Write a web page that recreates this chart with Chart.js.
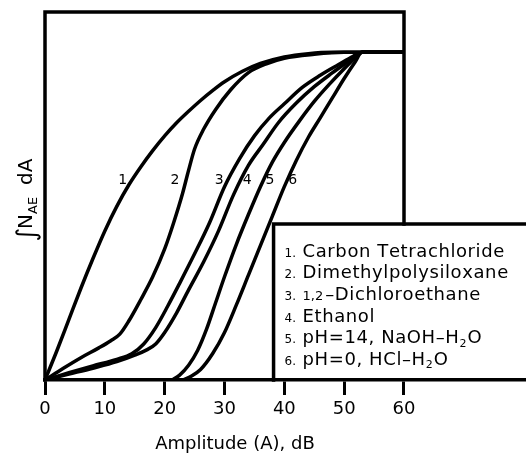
<!DOCTYPE html>
<html><head><meta charset="utf-8">
<script src="https://cdn.jsdelivr.net/npm/chart.js@4"></script>
<style>html,body{margin:0;padding:0;background:#fff}#wrap{width:526px;height:456px}</style>
</head><body><div id="wrap"><canvas id="c" width="526" height="456"></canvas></div>
<script>
// ---- data ----
const xTicks = [0, 10, 20, 30, 40, 50, 60];
const xTitle = 'Amplitude (A), dB';

const c1x = [0, 2, 4, 6, 8, 10, 12, 14, 16, 18, 20, 22, 24, 26, 28, 30, 33, 36, 40, 44, 48, 60];
const c1y = [0, 9, 18.5, 28, 37, 45.5, 53, 59.5, 65, 70, 74.5, 78.5, 82, 85.3, 88.3, 91, 94.2, 96.6, 98.6, 99.6, 100, 100];

const c2x = [0, 3, 6, 9, 11, 12.5, 14, 16, 18, 20, 21.5, 23, 24, 25, 26.5, 28.5, 31, 34, 37, 40, 45, 50, 60];
const c2y = [0, 3.5, 6.8, 9.8, 12, 14, 18, 24.5, 31.5, 40, 48, 57, 64, 70.5, 76.5, 82.5, 88.5, 93.8, 96.5, 98.2, 99.4, 100, 100];

const c3x = [0, 4, 8, 12, 14.5, 16.5, 18.5, 20.5, 22.5, 25, 27.5, 30, 32.5, 35, 37.5, 40, 43, 46, 49, 51.5, 53, 60];
const c3y = [0, 2.2, 4.3, 6.3, 8, 11, 16, 22.5, 29.5, 38.5, 48, 59, 67.5, 74.5, 80, 84.3, 89.3, 93, 96.2, 98.8, 100, 100];

const c4x = [0, 4, 8, 12, 15, 17, 18.5, 20, 22, 24, 26.5, 29, 31.5, 34, 36.5, 39, 42, 45, 48, 50.5, 52.2, 53, 60];
const c4y = [0, 1.8, 3.6, 5.6, 7.6, 9.2, 11, 14.5, 20.5, 27.5, 36, 45.5, 56.5, 65.5, 72, 78.5, 84.5, 89.5, 93.7, 97, 99.2, 100, 100];

const c5x = [21.2, 22.5, 24, 25.5, 27, 28.5, 30, 32, 34, 36, 38, 40, 42.5, 45, 47.5, 50, 51.8, 53, 60];
const c5y = [0, 1.5, 4.5, 9, 15.5, 23.5, 31.5, 41.5, 50.5, 59, 66.5, 72.5, 79, 85, 90.2, 95, 98.2, 100, 100];

const c6x = [23, 24.5, 26, 28, 30, 32, 34, 36, 38, 40, 42, 44, 46, 48, 50, 51.8, 53, 60];
const c6y = [0, 1.2, 3.2, 8, 14.5, 23, 32, 41, 50, 59, 67, 74, 80, 86, 92, 97, 100, 100];

const curveNumbers = ['1', '2', '3', '4', '5', '6'];
const curveLabelX = [13.0, 21.7, 29.1, 33.8, 37.6, 41.4];
const curveLabelY = [61, 61, 61, 61, 61, 61];

const legendNums = ['1.', '2.', '3.', '4.', '5.', '6.'];
const legendSmall = ['', '', '1,2', '', '', ''];
const legendMain = ['Carbon Tetrachloride', 'Dimethylpolysiloxane', '\u2013Dichloroethane', 'Ethanol', 'pH=14, NaOH\u2013H\u2082O', 'pH=0, HCl\u2013H\u2082O'];

// ---- layout constants (styling) ----
const yMax = 112.3;
const xMax = 80.39;
const frameRight = 60;
const legendLeft = 38.2;
const legendTop = 47.6;
const FONT = '"DejaVu Sans", sans-serif';

const curves = [[c1x, c1y], [c2x, c2y], [c3x, c3y], [c4x, c4y], [c5x, c5y], [c6x, c6y]];
const datasets = curves.map(([xs, ys], i) => ({
  label: curveNumbers[i],
  data: xs.map((v, j) => ({ x: v, y: ys[j] })),
  borderColor: '#000',
  borderWidth: 3.5,
  pointRadius: 0,
  fill: false,
  cubicInterpolationMode: 'monotone'
}));

function drawRich(ctx, text, x, baseline, size) {
  let cx = x;
  for (const ch of text) {
    if (ch === '\u2082') {
      ctx.font = Math.round(size * 0.62) + 'px ' + FONT;
      ctx.fillText('2', cx, baseline + size * 0.18);
      cx += ctx.measureText('2').width + 1;
    } else {
      ctx.font = size + 'px ' + FONT;
      ctx.fillText(ch, cx, baseline);
      cx += ctx.measureText(ch).width + 0.6;
    }
  }
  return cx;
}

const framePlugin = {
  id: 'frame',
  afterDatasetsDraw(chart) {
    const { ctx, scales: { x, y } } = chart;
    const L = x.getPixelForValue(0), R = x.getPixelForValue(frameRight);
    const T = y.getPixelForValue(yMax), B = y.getPixelForValue(0);
    const bx = x.getPixelForValue(legendLeft), by = y.getPixelForValue(legendTop);
    ctx.save();
    ctx.strokeStyle = '#000';
    ctx.fillStyle = '#000';
    ctx.lineWidth = 3.5;
    ctx.lineCap = 'square';
    ctx.beginPath();
    ctx.moveTo(L, B); ctx.lineTo(L, T); ctx.lineTo(R, T); ctx.lineTo(R, by);
    ctx.stroke();
    ctx.beginPath();
    ctx.moveTo(bx, B); ctx.lineTo(bx, by); ctx.lineTo(chart.width + 5, by);
    ctx.stroke();
    // legend text
    ctx.textBaseline = 'alphabetic';
    ctx.textAlign = 'left';
    for (let i = 0; i < legendMain.length; i++) {
      const base = by + 32.5 + i * 21.7;
      ctx.font = '12px ' + FONT;
      ctx.fillText(legendNums[i], bx + 11, base);
      let cx = bx + 29;
      if (legendSmall[i]) {
        ctx.font = '13px ' + FONT;
        ctx.fillText(legendSmall[i], cx, base);
        cx += ctx.measureText(legendSmall[i]).width + 2;
      }
      drawRich(ctx, legendMain[i], cx, base, 18);
    }
    // curve numbers
    ctx.font = '14px ' + FONT;
    ctx.textAlign = 'center';
    ctx.textBaseline = 'middle';
    for (let i = 0; i < curveNumbers.length; i++) {
      ctx.fillText(curveNumbers[i], x.getPixelForValue(curveLabelX[i]), y.getPixelForValue(curveLabelY[i]));
    }
    // x title
    ctx.font = '18px ' + FONT;
    ctx.textBaseline = 'alphabetic';
    ctx.fillText(xTitle, x.getPixelForValue(31.75), 449);
    // y title
    ctx.translate(32, 200);
    ctx.rotate(-Math.PI / 2);
    ctx.textAlign = 'left';
    const parts = [
      { t: '\u222B', f: 'italic 26px ' + FONT, dy: 3, gap: -1 },
      { t: 'N', f: '20px ' + FONT, dy: 0, gap: 0 },
      { t: 'AE', f: '13px ' + FONT, dy: 5, gap: 12 },
      { t: 'dA', f: '20px ' + FONT, dy: 0, gap: 0 }
    ];
    let w = 0;
    for (const p of parts) { ctx.font = p.f; w += ctx.measureText(p.t).width + p.gap; }
    let cx = -w / 2;
    for (const p of parts) {
      ctx.font = p.f;
      ctx.fillText(p.t, cx, p.dy);
      cx += ctx.measureText(p.t).width + p.gap;
    }
    ctx.restore();
  }
};

new Chart(document.getElementById('c').getContext('2d'), {
  type: 'line',
  data: { datasets },
  options: {
    responsive: false,
    animation: false,
    devicePixelRatio: 1,
    layout: { padding: { left: 45, top: 12, right: 0, bottom: 0 } },
    plugins: { legend: { display: false }, tooltip: { enabled: false } },
    scales: {
      x: {
        type: 'linear', min: 0, max: xMax,
        afterBuildTicks: s => { s.ticks = xTicks.map(v => ({ value: v })); },
        afterFit: s => { s.height = 76; },
        grid: { drawOnChartArea: false, drawTicks: true, tickLength: 15, color: '#000', lineWidth: 3 },
        border: { display: true, color: '#000', width: 3.5 },
        ticks: { color: '#000', font: { family: FONT, size: 18 }, padding: 4, maxRotation: 0, autoSkip: false }
      },
      y: { display: false, min: 0, max: yMax }
    }
  },
  plugins: [framePlugin]
});
</script>
</body></html>
